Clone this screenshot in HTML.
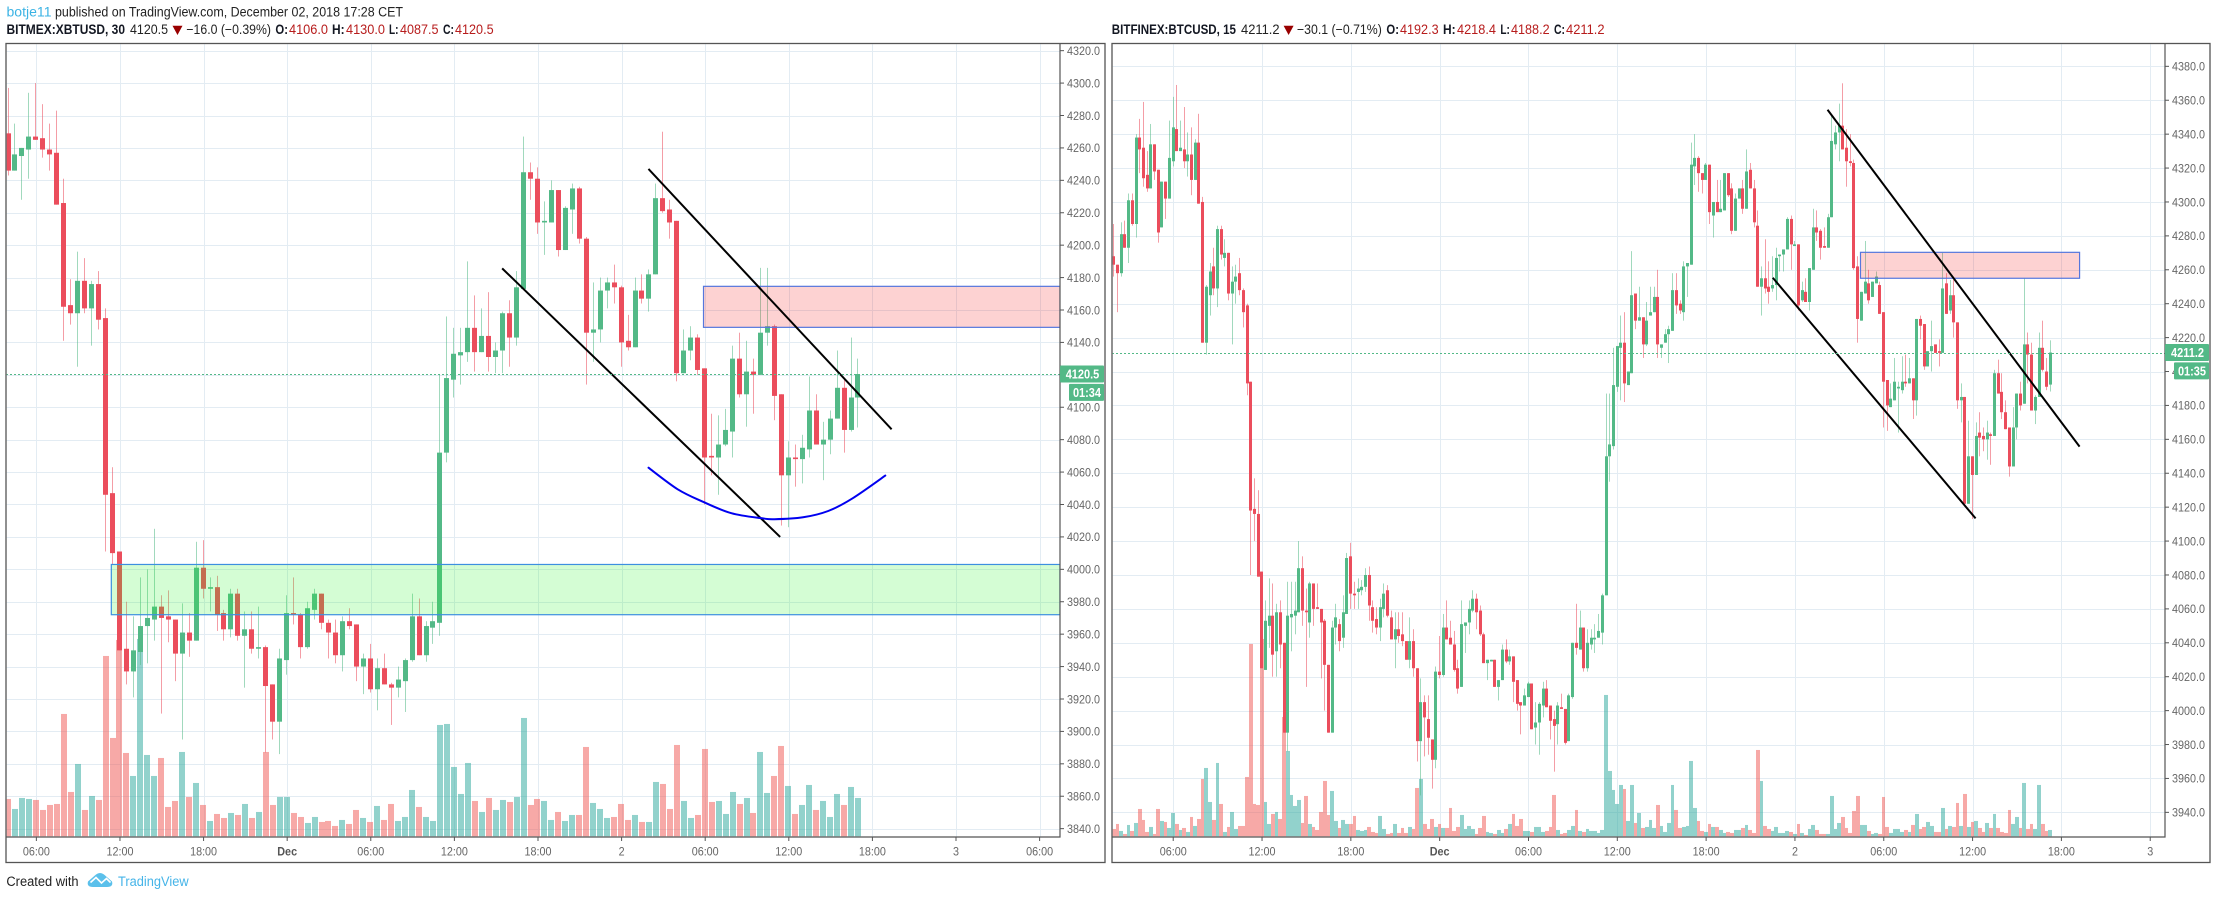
<!DOCTYPE html>
<html lang="en">
<head>
<meta charset="utf-8">
<title>XBTUSD and BTCUSD charts</title>
<style>
html,body{margin:0;padding:0;background:#fff;width:2217px;height:899px;overflow:hidden}
svg{display:block;font-family:"Liberation Sans",sans-serif}
.b{font-weight:bold;fill:#131722}
.n{fill:#222}
.r{fill:#b71c1c}
</style>
</head>
<body>
<svg id="root" xmlns="http://www.w3.org/2000/svg" width="2217" height="899" viewBox="0 0 2217 899">
<rect x="0" y="0" width="2217" height="899" fill="#fff"/>
<g font-size="13.5">
<text x="6.5" y="16.5" fill="#3bb3e4" textLength="45" lengthAdjust="spacingAndGlyphs">botje11</text>
<text x="55" y="16.5" class="n" textLength="348" lengthAdjust="spacingAndGlyphs">published on TradingView.com, December 02, 2018 17:28 CET</text>
</g>
<g font-size="13.5">
<text x="6.5" y="34" class="b" textLength="118.5" lengthAdjust="spacingAndGlyphs">BITMEX:XBTUSD, 30</text>
<text x="130" y="34" class="n" textLength="38" lengthAdjust="spacingAndGlyphs">4120.5</text>
<polygon points="172.5,25.7 182.5,25.7 177.5,35" fill="#990000"/>
<text x="186.4" y="34" class="n" textLength="84.6" lengthAdjust="spacingAndGlyphs">−16.0 (−0.39%)</text>
<text x="275.4" y="34" class="b" textLength="12.6" lengthAdjust="spacingAndGlyphs">O:</text>
<text x="289" y="34" class="r" textLength="39" lengthAdjust="spacingAndGlyphs">4106.0</text>
<text x="332" y="34" class="b" textLength="12.6" lengthAdjust="spacingAndGlyphs">H:</text>
<text x="346" y="34" class="r" textLength="39" lengthAdjust="spacingAndGlyphs">4130.0</text>
<text x="389" y="34" class="b" textLength="9.5" lengthAdjust="spacingAndGlyphs">L:</text>
<text x="400" y="34" class="r" textLength="38.5" lengthAdjust="spacingAndGlyphs">4087.5</text>
<text x="443" y="34" class="b" textLength="11" lengthAdjust="spacingAndGlyphs">C:</text>
<text x="455" y="34" class="r" textLength="38.6" lengthAdjust="spacingAndGlyphs">4120.5</text>
</g>
<g font-size="13.5">
<text x="1111.8" y="34" class="b" textLength="124.2" lengthAdjust="spacingAndGlyphs">BITFINEX:BTCUSD, 15</text>
<text x="1241" y="34" class="n" textLength="38.6" lengthAdjust="spacingAndGlyphs">4211.2</text>
<polygon points="1283.6,25.7 1293.6,25.7 1288.6,35" fill="#990000"/>
<text x="1297" y="34" class="n" textLength="84.8" lengthAdjust="spacingAndGlyphs">−30.1 (−0.71%)</text>
<text x="1386.4" y="34" class="b" textLength="12.6" lengthAdjust="spacingAndGlyphs">O:</text>
<text x="1400" y="34" class="r" textLength="38.6" lengthAdjust="spacingAndGlyphs">4192.3</text>
<text x="1443" y="34" class="b" textLength="12.6" lengthAdjust="spacingAndGlyphs">H:</text>
<text x="1457" y="34" class="r" textLength="39" lengthAdjust="spacingAndGlyphs">4218.4</text>
<text x="1500.4" y="34" class="b" textLength="9.5" lengthAdjust="spacingAndGlyphs">L:</text>
<text x="1511" y="34" class="r" textLength="38.6" lengthAdjust="spacingAndGlyphs">4188.2</text>
<text x="1554" y="34" class="b" textLength="11" lengthAdjust="spacingAndGlyphs">C:</text>
<text x="1566" y="34" class="r" textLength="38.6" lengthAdjust="spacingAndGlyphs">4211.2</text>
</g>
<g id="chartLayer"></g>
<g>
<text x="6.4" y="886" font-size="13.5" class="n" textLength="72.2" lengthAdjust="spacingAndGlyphs">Created with</text>
<g>
<path d="M88,881.5 L96,874.5 Q100,871.5 104,874.5 L112,881.5 Q113.5,887 107,887 L93,887 Q86.5,887 88,881.5 Z" fill="#5bc0eb"/>
<polyline points="90.5,882.5 96,877.5 101.5,883 106.5,878.5 110.5,882.5" fill="none" stroke="#fff" stroke-width="1.6"/>
</g>
<text x="118" y="886" font-size="13.5" fill="#45b4e8" textLength="70.6" lengthAdjust="spacingAndGlyphs">TradingView</text>
</g>
</svg>
<script>
const leftOpen=[4269,4246,4255,4259,4267,4266,4259,4257,4226,4163,
4158,4178,4161,4176,4155,4047,4011,3951,3937,3949,
3965,3969,3977,3971,3969,3948,3961,3956,4001,3988,
3989,3973,3963,3985,3959,3963,3951,3952,3929,3906,
3944,3973,3972,3952,3975,3985,3967,3961,3947,3968,
3966,3940,3945,3926,3939,3929,3927,3931,3944,3971,
3947,3964,3967,4072,4117,4132,4134,4149,4134,4144,
4131,4135,4158,4143,4173,4245,4241,4214,4214,4234,
4197,4222,4235,4204,4146,4148,4172,4177,4174,4141,
4137,4172,4167,4182,4229,4222,4215,4121,4135,4143,
4124,4070,4069,4077,4085,4130,4108,4122,4120,4146,
4150,4108,4058,4069,4068,4074,4098,4077,4080,4093,
4112,4086,4106];
const leftHigh=[4297,4275,4260,4294,4300,4287,4275,4283,4241,4179,
4196,4192,4178,4184,4161,4063,4011,3980,3971,3995,
4000,4025,3984,3987,3969,3979,3973,4017,4018,3995,
3996,3975,3988,3988,3974,3974,3977,3953,3929,3951,
3984,3995,3973,3980,3988,3985,3969,3969,3971,3976,
3966,3948,3954,3945,3948,3930,3940,3945,3985,3982,
3968,3980,4120,4156,4149,4149,4190,4169,4161,4171,
4140,4159,4166,4184,4267,4251,4248,4227,4240,4234,
4224,4238,4236,4205,4177,4180,4180,4188,4175,4157,
4180,4182,4185,4238,4270,4228,4215,4148,4150,4145,
4124,4096,4095,4099,4138,4146,4141,4130,4186,4186,
4151,4108,4079,4077,4083,4119,4108,4091,4098,4135,
4117,4143,4130];
const leftLow=[4243,4246,4228,4241,4265,4254,4246,4225,4141,4151,
4125,4158,4138,4148,4011,4003,3950,3929,3921,3941,
3942,3956,3911,3955,3931,3895,3946,3956,3982,3974,
3962,3956,3958,3956,3927,3948,3945,3887,3895,3886,
3935,3966,3945,3951,3969,3963,3945,3942,3937,3963,
3931,3923,3924,3913,3929,3904,3921,3912,3943,3947,
3943,3954,3959,4066,4106,4114,4128,4122,4134,4122,
4121,4121,4125,4138,4173,4228,4207,4194,4214,4193,
4197,4207,4201,4114,4128,4140,4161,4164,4125,4135,
4137,4164,4159,4182,4220,4204,4116,4121,4129,4120,
4040,4058,4046,4076,4069,4106,4088,4096,4120,4138,
4092,4027,4026,4051,4053,4069,4077,4055,4071,4093,
4072,4085,4087.5];
const leftClose=[4246,4256,4260,4267,4265,4259,4256,4225,4162,4158,
4178,4161,4176,4154,4046,4010,3950,3937,3950,3965,
3970,3977,3970,3969,3948,3961,3956,4001,3988,3989,
3972,3963,3985,3959,3963,3951,3952,3928,3906,3945,
3973,3972,3952,3976,3985,3967,3961,3947,3968,3965,
3940,3945,3926,3939,3929,3927,3932,3944,3971,3947,
3965,3968,4072,4118,4133,4134,4149,4134,4144,4131,
4135,4158,4143,4174,4245,4241,4214,4215,4234,4197,
4223,4235,4204,4146,4148,4172,4177,4174,4140,4137,
4172,4167,4182,4229,4221,4214,4121,4135,4143,4123,
4069,4069,4077,4086,4130,4108,4122,4120,4146,4150,
4107,4058,4069,4068,4075,4098,4077,4080,4093,4112,
4086,4106,4120.5];
const leftVolume=[112,82,115,112,109,79,94,97,367,133,
217,79,121,109,541,295,589,250,181,592,
244,181,235,88,106,253,118,160,94,46,
67,55,70,64,97,55,73,253,94,118,
118,70,58,40,58,43,46,31,49,37,
79,55,43,91,49,97,46,58,139,88,
58,46,334,337,208,127,220,106,73,115,
79,109,103,118,355,94,112,106,49,73,
46,64,64,268,100,82,55,58,97,49,
64,43,43,163,157,82,274,106,55,64,
262,103,106,67,133,97,115,70,253,130,
181,271,151,67,94,154,79,106,58,127,
94,148,115];
const leftPriceTicks=['4320.0','4300.0','4280.0','4260.0','4240.0','4220.0','4200.0','4180.0','4160.0','4140.0','4120.0','4100.0','4080.0','4060.0','4040.0','4020.0','4000.0','3980.0','3960.0','3940.0','3920.0','3900.0','3880.0','3860.0','3840.0'];
const leftTimeLabels=['06:00','12:00','18:00','Dec','06:00','12:00','18:00','2','06:00','12:00','18:00','3','06:00'];
const leftTimeBars=[4,16,28,40,52,64,76,88,100,112,124,136,148];
const leftZoneGreen=[14.9,160,4003,3972];
const leftZoneRed=[99.9,160,4174.6,4149.3];
const leftUpperLine=[[92,4247],[126.9,4086.4]];
const leftLowerLine=[[71,4185.7],[110.9,4020]];
const leftArcBars=[92,96.2,99.8,103.9,108.3,110.1,114.2,117.8,121.3,126];
const leftArcPrices=[4062.7,4049.4,4041.7,4034.6,4031.5,4030.9,4032.1,4036,4043.8,4057.8];

const rightOpen=[4268,4263,4258,4281,4273,4301,4287,4338,4332,4316,
4308,4334,4319,4285,4312,4302,4324,4343,4330,4331,
4324,4328,4313,4335,4300,4217,4245,4262,4249,4284,
4267,4270,4246,4253,4258,4248,4239,4194,4119,4116,
4082,4024,4050,4056,4035,4058,4040,3987,4055,4056,
4058,4084,4059,4052,4075,4061,4060,4053,4027,3987,
4049,4051,4043,4057,4091,4069,4070,4071,4073,4080,
4061,4054,4049,4060,4071,4055,4042,4048,4045,4041,
4030,4041,4025,3982,4005,3995,3983,3971,4023,4021,
4049,4043,4039,4025,4014,4050,4052,4059,4066,4059,
4045,4028,4029,4030,4014,4018,4036,4029,4032,4018,
4005,4003,4008,4016,3990,3993,4003,4013,4003,3995,
3992,4002,4001,3982,4008,4040,4036,4049,4025,4039,
4042,4043,4046,4068,4150,4156,4191,4214,4217,4192,
4199,4246,4230,4232,4216,4233,4235,4244,4214,4217,
4222,4224,4248,4240,4235,4262,4263,4321,4326,4317,
4313,4322,4292,4300,4294,4295,4317,4308,4283,4302,
4308,4296,4319,4308,4286,4250,4255,4250,4249,4251,
4268,4269,4272,4290,4274,4275,4242,4247,4241,4260,
4285,4283,4274,4273,4291,4334,4341,4345,4332,4324,
4323,4262,4230,4246,4252,4244,4252,4251,4235,4195,
4179,4183,4190,4189,4194,4193,4196,4183,4231,4228,
4203,4212,4216,4212,4211,4252,4236,4245,4229,4183,
4185,4122,4150,4139,4164,4162,4160,4163,4162,4199,
4188,4176,4167,4144,4167,4187,4181,4216,4210,4177,
4185,4214,4200,4192.3];
const rightHigh=[4287,4263,4288,4289,4305,4305,4340,4349,4359,4330,
4346,4334,4319,4312,4312,4348,4362,4369,4348,4356,
4341,4344,4337,4352,4303,4251,4264,4273,4286,4286,
4278,4270,4262,4263,4267,4249,4240,4194,4137,4130,
4082,4065,4078,4075,4063,4065,4040,4076,4076,4076,
4100,4091,4072,4076,4075,4075,4060,4054,4027,4053,
4063,4054,4068,4093,4099,4076,4078,4077,4084,4085,
4065,4061,4066,4075,4074,4059,4058,4058,4058,4041,
4055,4048,4025,4019,4009,4009,3983,4026,4044,4057,
4065,4053,4047,4030,4065,4052,4065,4071,4069,4062,
4046,4030,4030,4030,4018,4039,4042,4036,4032,4018,
4005,4013,4017,4016,4005,4005,4017,4018,4003,4000,
4005,4010,4001,4010,4040,4063,4059,4049,4048,4048,
4051,4057,4069,4187,4187,4214,4215,4233,4235,4200,
4271,4246,4250,4232,4241,4250,4250,4260,4216,4225,
4227,4258,4258,4242,4265,4264,4335,4340,4327,4317,
4323,4322,4300,4313,4313,4317,4317,4311,4305,4308,
4313,4331,4323,4313,4295,4262,4278,4265,4268,4273,
4269,4272,4291,4292,4277,4275,4253,4255,4261,4296,
4295,4284,4285,4293,4351,4345,4358,4370,4343,4340,
4325,4268,4247,4277,4260,4253,4259,4253,4235,4195,
4193,4208,4194,4209,4210,4208,4196,4231,4233,4228,
4212,4230,4216,4219,4270,4258,4254,4254,4229,4193,
4185,4171,4150,4170,4176,4167,4171,4164,4201,4207,
4199,4183,4167,4179,4187,4194,4255,4223,4217,4186,
4223,4230,4208,4218.4];
const rightLow=[4256,4235,4256,4273,4264,4286,4279,4317,4309,4306,
4308,4313,4276,4285,4290,4302,4321,4330,4330,4320,
4315,4304,4313,4299,4217,4210,4233,4245,4238,4266,
4262,4242,4216,4240,4245,4226,4186,4080,4100,4079,
4025,4024,4037,4020,4020,4025,3987,3976,4035,4045,
4058,4050,4014,4043,4050,4060,4019,4000,3987,3987,
4039,4035,4037,4057,4060,4060,4060,4068,4070,4053,
4046,4045,4041,4055,4055,4042,4025,4040,4038,4030,
4025,4020,3970,3950,3973,3974,3954,3966,4019,4020,
4042,4039,4023,4010,4014,4034,4045,4058,4048,4044,
4028,4018,4029,4014,4006,4018,4028,4027,4005,4000,
3986,4003,4008,3989,3980,3974,3996,4002,3983,3964,
3980,4001,3980,3982,4007,4033,4036,4023,4023,4036,
4034,4043,4039,4068,4135,4154,4188,4183,4182,4192,
4199,4225,4230,4208,4215,4233,4235,4208,4208,4217,
4205,4224,4234,4234,4230,4244,4263,4310,4306,4305,
4313,4287,4279,4294,4294,4295,4303,4281,4283,4302,
4293,4296,4308,4285,4250,4233,4246,4240,4247,4242,
4259,4259,4272,4260,4274,4236,4241,4241,4236,4260,
4277,4266,4273,4273,4291,4331,4324,4331,4309,4321,
4260,4217,4230,4246,4240,4244,4252,4234,4167,4165,
4179,4183,4164,4187,4191,4193,4172,4174,4219,4201,
4203,4200,4211,4203,4211,4234,4234,4220,4178,4170,
4122,4122,4113,4139,4150,4153,4148,4145,4162,4187,
4172,4166,4138,4144,4160,4177,4181,4193,4177,4169,
4185,4200,4189,4188.2];
const rightClose=[4263,4258,4281,4273,4301,4287,4338,4331,4314,4308,
4334,4318,4282,4312,4302,4326,4344,4330,4332,4324,
4328,4313,4335,4299,4217,4250,4259,4249,4284,4269,
4270,4246,4253,4256,4248,4235,4193,4118,4116,4079,
4025,4053,4056,4033,4058,4039,3987,4056,4057,4059,
4084,4059,4058,4075,4060,4060,4052,4027,3987,4049,
4055,4041,4058,4090,4069,4068,4072,4073,4080,4062,
4053,4049,4061,4069,4056,4042,4048,4044,4041,4030,
4041,4025,3982,4005,3996,3984,3971,4023,4021,4049,
4042,4039,4024,4013,4051,4052,4060,4066,4058,4045,
4028,4030,4030,4014,4018,4036,4029,4032,4017,4004,
4003,4009,4016,3989,3993,4004,4013,4002,3994,3991,
4003,4001,3981,4009,4040,4037,4049,4025,4040,4043,
4043,4047,4068,4150,4157,4192,4215,4217,4193,4200,
4245,4230,4232,4216,4230,4235,4244,4216,4216,4222,
4225,4248,4239,4236,4262,4264,4322,4326,4317,4313,
4322,4294,4300,4294,4296,4317,4304,4283,4302,4308,
4296,4318,4308,4288,4250,4255,4249,4247,4251,4267,
4269,4272,4290,4275,4275,4239,4248,4241,4261,4285,
4282,4273,4273,4291,4336,4341,4345,4331,4324,4323,
4261,4231,4247,4253,4242,4253,4256,4234,4194,4180,
4184,4194,4191,4194,4193,4196,4183,4231,4227,4203,
4212,4215,4211,4211,4249,4234,4245,4229,4183,4185,
4122,4150,4139,4162,4161,4160,4164,4162,4199,4187,
4176,4166,4144,4167,4187,4180,4216,4210,4177,4185,
4214,4201,4191,4211.2];
const rightVolume=[22,37,16,7,34,16,40,82,49,13,
28,7,82,46,43,25,70,37,19,25,
13,58,31,52,172,205,103,49,220,97,
13,28,73,22,31,31,178,577,97,94,
592,103,37,67,73,52,358,256,124,91,
109,40,121,37,28,19,73,166,64,136,
46,25,49,37,37,61,19,16,19,28,
13,10,61,22,7,10,37,10,25,10,
28,22,145,172,37,22,52,28,37,25,
25,85,16,28,64,22,31,22,7,25,
61,13,10,7,19,10,22,37,67,31,
52,16,16,13,28,28,13,16,28,124,
19,7,10,19,31,79,16,13,22,16,
16,10,19,424,196,139,97,154,142,46,
154,40,70,25,28,49,25,94,31,13,
40,154,79,25,28,31,226,85,46,16,
13,37,28,28,19,10,13,10,19,19,
25,34,19,10,259,166,31,22,16,28,
10,10,16,13,7,37,10,4,22,34,
19,7,7,7,121,22,40,58,25,10,
76,121,34,34,16,7,10,7,118,28,
10,22,22,13,19,13,34,67,22,28,
43,31,13,13,85,22,31,28,100,31,
127,28,43,46,25,13,40,25,67,25,
13,10,79,37,58,25,160,22,37,22,
154,37,16,19];
const rightPriceTicks=['4380.0','4360.0','4340.0','4320.0','4300.0','4280.0','4260.0','4240.0','4220.0','4200.0','4180.0','4160.0','4140.0','4120.0','4100.0','4080.0','4060.0','4040.0','4020.0','4000.0','3980.0','3960.0','3940.0'];
const rightTimeLabels=['06:00','12:00','18:00','Dec','06:00','12:00','18:00','2','06:00','12:00','18:00','3'];
const rightTimeBars=[16,40,64,88,112,136,160,184,208,232,256,280];
const rightZoneRed=[201.9,261.1,4270.3,4255];
const rightUpperLine=[[193,4354.4],[261.1,4155.7]];
const rightLowerLine=[[178.2,4255.3],[233,4113.4]];

const SVGNS='http://www.w3.org/2000/svg';
const UP='#53b987',DOWN='#eb4d5c';
const layer=document.getElementById('chartLayer');
function mk(tag,attrs,parent,text){
  const e=document.createElementNS(SVGNS,tag);
  for(const k in attrs){e.setAttribute(k,attrs[k]);}
  if(text!==undefined){e.textContent=text;}
  parent.appendChild(e);
  return e;
}
function squeeze(t,f){
  t.setAttribute('textLength',(t.getComputedTextLength()*f).toFixed(1));
  t.setAttribute('lengthAdjust','spacingAndGlyphs');
}
function smoothPath(pts){
  let d='M'+pts[0][0].toFixed(1)+' '+pts[0][1].toFixed(1);
  for(let i=0;i<pts.length-1;i++){
    const p0=pts[Math.max(0,i-1)],p1=pts[i],p2=pts[i+1],p3=pts[Math.min(pts.length-1,i+2)];
    const c1x=p1[0]+(p2[0]-p0[0])/6,c1y=p1[1]+(p2[1]-p0[1])/6;
    const c2x=p2[0]-(p3[0]-p1[0])/6,c2y=p2[1]-(p3[1]-p1[1])/6;
    d+='C'+c1x.toFixed(1)+' '+c1y.toFixed(1)+' '+c2x.toFixed(1)+' '+c2y.toFixed(1)+' '+p2[0].toFixed(1)+' '+p2[1].toFixed(1);
  }
  return d;
}
function drawChart(c){
  const g=mk('g',{},layer);
  
  
  const xGrid=i=>c.gridX0+i*c.barStep;
  const xBar=i=>Math.round(c.barX0+i*c.barStep);
  const yP=p=>c.yTop+(c.priceTop-p)*c.pxPerUnit;
  const yV=v=>c.yBase-v/3;
  const defs=mk('defs',{},g);
  const cp=mk('clipPath',{id:c.name+'-clip'},defs);
  mk('rect',{x:c.left+0.7,y:c.top+0.7,width:c.axisX-c.left-0.7,height:c.axisY-c.top-0.7},cp);
  const plot=mk('g',{'clip-path':'url(#'+c.name+'-clip)'},g);
  
  

  c.priceTicks.forEach(label=>{
    const y=Math.round(yP(Number(label)))+0.5;
    const l=mk('line',{x1:c.left,x2:c.axisX,y1:y,y2:y,stroke:'#e3ecf3','stroke-width':1},plot);
    
    
  });
  c.timeBars.forEach(b=>{
    const x=Math.round(xGrid(b))+0.5;
    const l=mk('line',{x1:x,x2:x,y1:c.top,y2:c.axisY,stroke:'#e3ecf3','stroke-width':1},plot);
    
    
  });

  c.volume.forEach((v,i)=>{
    const up=c.close[i]>=c.open[i];
    const y=yV(v);
    const cx=c.barX0+i*c.barStep+0.5;
    const x0=Math.round(cx-c.volW/2);
    const x1=Math.round(cx-c.volW/2+c.volW);
    const r=mk('rect',{x:x0,y:y,width:x1-x0,height:c.yBase-y,fill:up?'rgba(38,166,154,.5)':'rgba(239,83,80,.5)'},plot);
    
    
  });

  c.open.forEach((o,i)=>{
    const up=c.close[i]>=o;
    const cx=xBar(i);
    const hi=yP(c.high[i]),lo=yP(c.low[i]);
    const w=mk('rect',{x:cx,y:hi,width:1,height:Math.max(1,lo-hi),fill:up?UP:DOWN,'fill-opacity':0.55},plot);
    
    
    const t=yP(Math.max(o,c.close[i])),b=yP(Math.min(o,c.close[i]));
    const r=mk('rect',{x:cx-(c.bodyW-1)/2,y:t,width:c.bodyW,height:Math.max(1,b-t),fill:up?UP:DOWN},plot);
    
    
  });

  c.zones.forEach(z=>{
    const x1=c.barX0+z.box[0]*c.barStep,x2=Math.min(c.axisX,c.barX0+z.box[1]*c.barStep);
    const y1=yP(z.box[2]),y2=yP(z.box[3]);
    const r=mk('rect',{x:x1,y:y1,width:x2-x1,height:y2-y1,fill:z.fill,stroke:z.stroke,'stroke-width':1.2},plot);
    
    
  });

  c.lines.forEach(s=>{
    const l=mk('line',{x1:c.barX0+s[0][0]*c.barStep,y1:yP(s[0][1]),x2:c.barX0+s[1][0]*c.barStep,y2:yP(s[1][1]),stroke:'#000','stroke-width':2},plot);
    
    
  });

  if(c.arcBars){
    const pts=c.arcBars.map((b,i)=>[c.barX0+b*c.barStep,yP(c.arcPrices[i])]);
    const a=mk('path',{d:smoothPath(pts),fill:'none',stroke:'#0000f0','stroke-width':2,'stroke-linecap':'round'},plot);
    
    
  }

  const py=Math.round(yP(c.last))+0.5;
  const pl=mk('line',{x1:c.left,x2:c.axisX,y1:py,y2:py,stroke:UP,'stroke-width':1,'stroke-dasharray':'2 2'},plot);
  
  

  const priceAxis=mk('g',{'font-size':12,fill:'#666'},g);
  
  
  c.priceTicks.forEach(label=>{
    const y=yP(Number(label));
    const m=mk('line',{x1:c.axisX,x2:c.axisX+4,y1:y,y2:y,stroke:'#555','stroke-width':1},priceAxis);
    
    
    const t=mk('text',{x:c.axisX+7,y:y+4.3},priceAxis,label);
    
    
    squeeze(t,0.9);
  });

  const timeAxis=mk('g',{'font-size':12,fill:'#666','text-anchor':'middle'},g);
  
  
  c.timeBars.forEach((b,i)=>{
    const x=xGrid(b);
    const m=mk('line',{x1:x,x2:x,y1:c.axisY,y2:c.axisY+4,stroke:'#555','stroke-width':1},timeAxis);
    
    
    const dec=c.timeLabels[i]==='Dec';
    const t=mk('text',{x:x,y:855.3,'font-weight':dec?'bold':'normal',fill:dec?'#555':'#666'},timeAxis,c.timeLabels[i]);
    
    
    squeeze(t,0.9);
  });

  const ax=mk('path',{d:'M'+c.axisX+' '+c.top+'V'+c.axisY+'H'+c.left,fill:'none',stroke:'#555','stroke-width':1.2},g);
  
  
  const fr=mk('rect',{x:c.left,y:c.top,width:c.right-c.left,height:c.bottom-c.top,fill:'none',stroke:'#555','stroke-width':1.3},g);
  
  

  const by=yP(c.last)-8.5;
  const b1=mk('rect',{x:c.axisX,y:by,width:c.right-c.axisX-1,height:17,fill:UP,rx:1},g);
  
  
  const t1=mk('text',{x:(c.axisX+c.right)/2,y:by+13,fill:'#fff','font-size':12.5,'font-weight':'bold','text-anchor':'middle'},g,c.lastLabel);
  
  
  squeeze(t1,0.88);
  const b2=mk('rect',{x:c.axisX+9,y:by+18.3,width:c.right-c.axisX-10,height:17,fill:UP,rx:1},g);
  
  
  const t2=mk('text',{x:(c.axisX+9+c.right)/2,y:by+31.3,fill:'#fff','font-size':12.5,'font-weight':'bold','text-anchor':'middle'},g,c.countdown);
  
  
  squeeze(t2,0.88);
}
drawChart({name:'left',left:6,right:1105,top:43.5,bottom:862.5,axisX:1060,axisY:837,
  gridX0:8.5,barX0:7.5,barStep:6.967,yTop:50.67,priceTop:4320,pxPerUnit:1.6208,yBase:836.3,
  bodyW:5,volW:6,open:leftOpen,high:leftHigh,low:leftLow,close:leftClose,volume:leftVolume,
  priceTicks:leftPriceTicks,timeLabels:leftTimeLabels,timeBars:leftTimeBars,
  zones:[{box:leftZoneGreen,fill:'rgba(40,245,40,.2)',stroke:'#3d8fe0',name:'demand-zone'},
         {box:leftZoneRed,fill:'rgba(245,30,30,.2)',stroke:'#5577dd',name:'supply-zone'}],
  lines:[leftUpperLine,leftLowerLine],arcBars:leftArcBars,arcPrices:leftArcPrices,
  last:4120.5,lastLabel:'4120.5',countdown:'01:34'});
drawChart({name:'right',left:1112,right:2210,top:43.5,bottom:862.5,axisX:2165,axisY:837,
  gridX0:1114,barX0:1113.3,barStep:3.7008,yTop:66.33,priceTop:4380,pxPerUnit:1.6955,yBase:836.3,
  bodyW:3,volW:3.7008,open:rightOpen,high:rightHigh,low:rightLow,close:rightClose,volume:rightVolume,
  priceTicks:rightPriceTicks,timeLabels:rightTimeLabels,timeBars:rightTimeBars,
  zones:[{box:rightZoneRed,fill:'rgba(245,30,30,.2)',stroke:'#5577dd',name:'supply-zone'}],
  lines:[rightUpperLine,rightLowerLine],
  last:4211.2,lastLabel:'4211.2',countdown:'01:35'});
</script>
</body>
</html>
